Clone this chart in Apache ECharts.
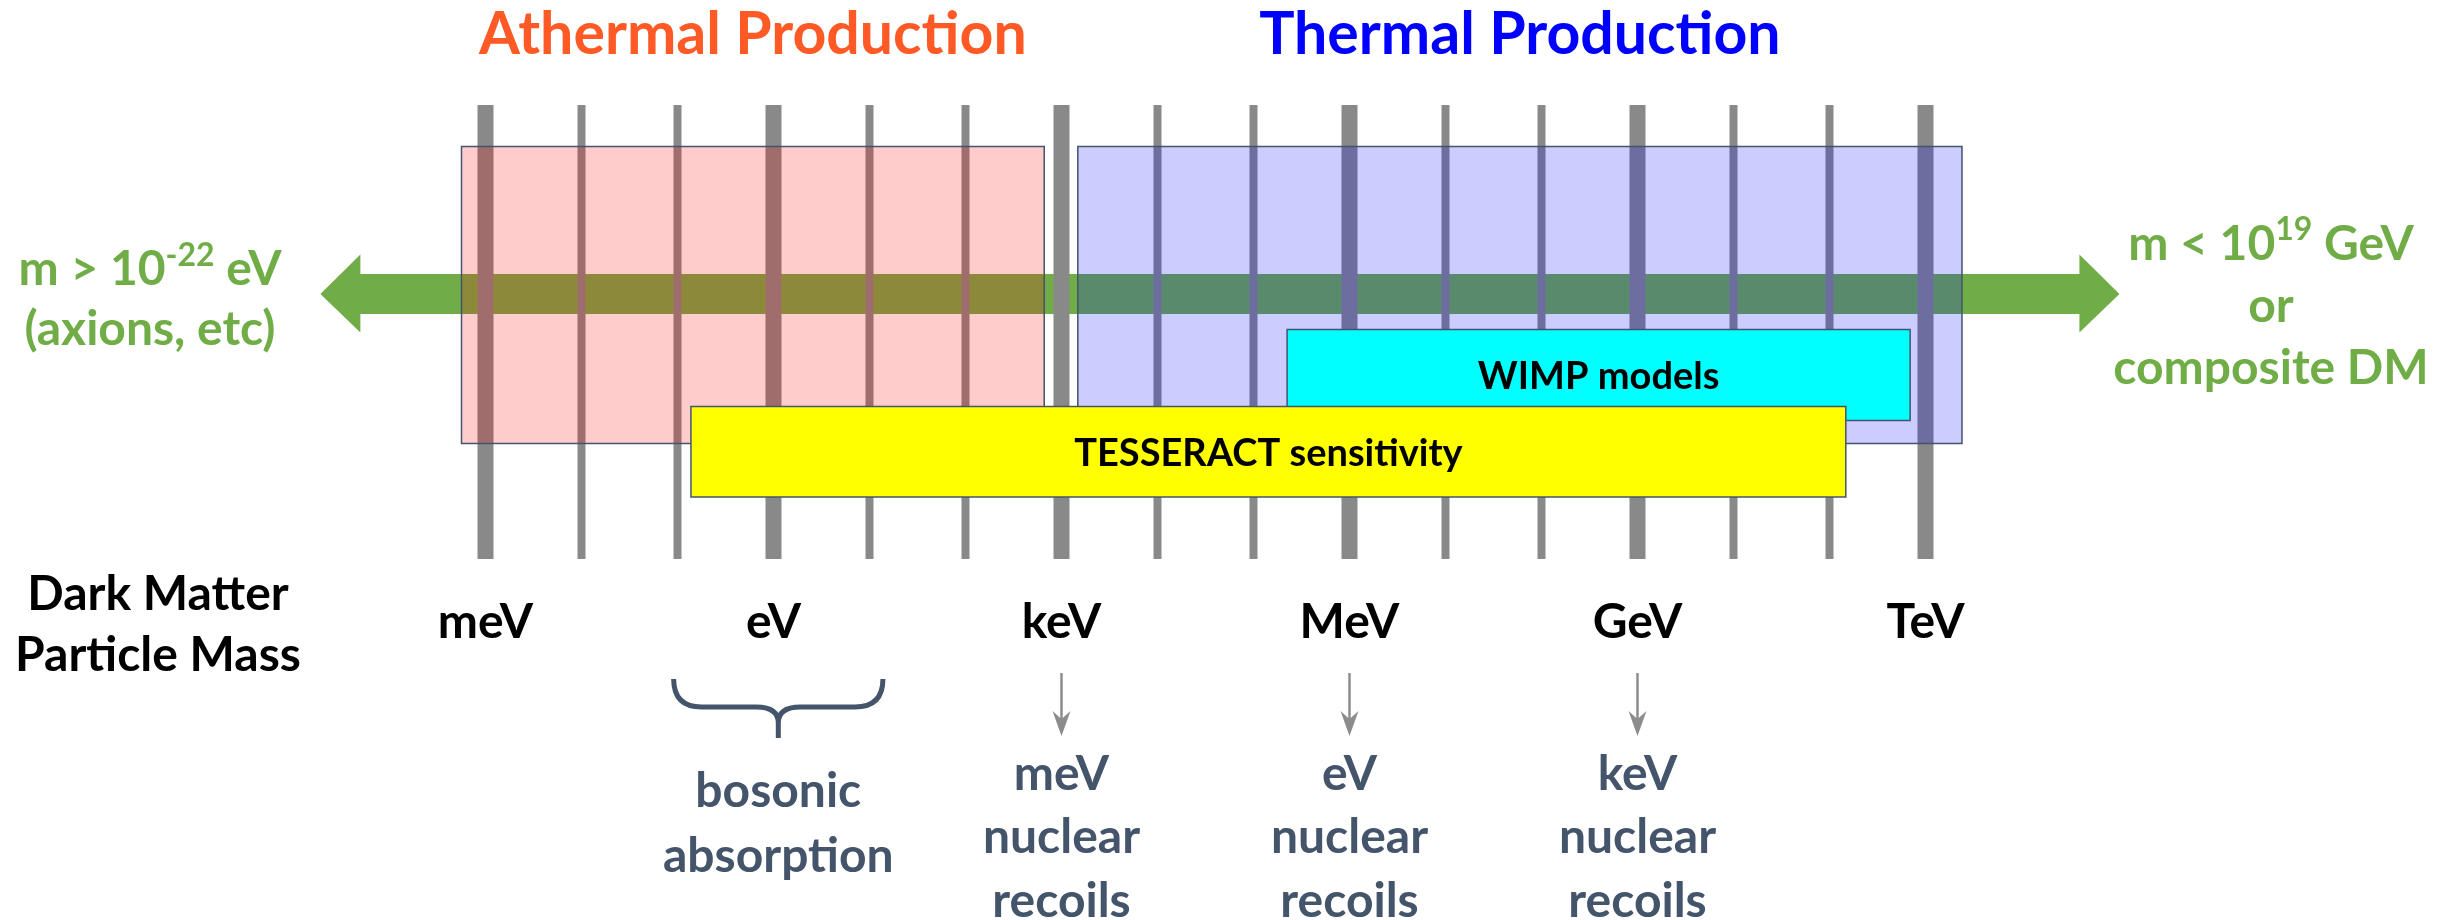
<!DOCTYPE html>
<html>
<head>
<meta charset="utf-8">
<title>Dark Matter Particle Mass</title>
<script src="https://cdn.jsdelivr.net/npm/echarts@6/dist/echarts.min.js"></script>
<style>
  html, body { margin: 0; padding: 0; background: #fff; }
  #main { width: 2448px; height: 920px; }
</style>
</head>
<body>
<div id="main"></div>
<script>
// x axis = log10(mass / eV), one grey line per decade
var decades = [-3, -2, -1, 0, 1, 2, 3, 4, 5, 6, 7, 8, 9, 10, 11, 12];
var unitDecades = [-3, 0, 3, 6, 9, 12];
var unitLabels = ['meV', 'eV', 'keV', 'MeV', 'GeV', 'TeV'];

// production regimes
var productionNames = ['Athermal Production', 'Thermal Production'];
var productionFrom = [-3.25, 3.17];
var productionTo = [2.82, 12.38];

// models / experiment reach
var bandNames = ['WIMP models', 'TESSERACT sensitivity'];
var bandFrom = [5.35, -0.86];
var bandTo = [11.84, 11.17];

// allowed dark matter mass range (arrow)
var arrowFrom = -4.72;
var arrowTo = 14.02;

// recoil energies below keV / MeV / GeV
var recoilDecades = [3, 6, 9];
var recoilUnits = ['meV', 'eV', 'keV'];

// bosonic absorption brace
var braceFrom = -1.04;
var braceTo = 1.14;

var FONT = 'Lato, "Noto Sans", sans-serif';
var SLATE = '#44546A';
var GREEN = '#70AD47';
var GREY = '#898989';
var productionFill = ['rgba(255,0,0,0.2)', 'rgba(0,0,255,0.2)'];
var productionText = ['#FF5A25', '#0000FF'];
var bandFill = ['#00FFFF', '#FFFF00'];

// vertical layout (y axis runs in pixels, top down)
var Y = {
  title: 35,
  lineTop: 105, lineBottom: 559,
  boxTop: 146.5, boxBottom: 443.5,
  shaftTop: 274, shaftBottom: 314, headTop: 254.5, headBottom: 332.5,
  bandTop: [329.5, 406.5], bandBottom: [420.5, 497],
  recoilTop: 673, recoilHead: 711, recoilTip: 736, recoilText: 838,
  braceTop: 679, braceMid: 707, braceTip: 738, braceText: 824
};

var chart = echarts.init(document.getElementById('main'));

function px(api, x) { return api.coord([x, 0])[0]; }
function py(api, y) { return api.coord([0, y])[1]; }

function renderArrow(params, api) {
  var a = px(api, api.value(0));
  var b = px(api, api.value(1));
  var head = 40;
  var mid = py(api, (Y.shaftTop + Y.shaftBottom) / 2);
  var st = py(api, Y.shaftTop), sb = py(api, Y.shaftBottom);
  var ht = py(api, Y.headTop), hb = py(api, Y.headBottom);
  return {
    type: 'polygon',
    shape: { points: [[a, mid], [a + head, ht], [a + head, st], [b - head, st], [b - head, ht], [b, mid],
      [b - head, hb], [b - head, sb], [a + head, sb], [a + head, hb]] },
    style: { fill: GREEN }
  };
}

function renderDecade(params, api) {
  var d = api.value(0);
  var w = unitDecades.indexOf(d) >= 0 ? 16 : 8;
  var x = px(api, d);
  var t = py(api, Y.lineTop), b = py(api, Y.lineBottom);
  return { type: 'rect', shape: { x: x - w / 2, y: t, width: w, height: b - t }, style: { fill: GREY } };
}

function renderProduction(params, api) {
  var i = params.dataIndex;
  var x0 = px(api, api.value(0)), x1 = px(api, api.value(1));
  var t = py(api, Y.boxTop), b = py(api, Y.boxBottom);
  return {
    type: 'group',
    children: [
      { type: 'rect', shape: { x: x0, y: t, width: x1 - x0, height: b - t },
        style: { fill: productionFill[i], stroke: SLATE, lineWidth: 1.5 } },
      { type: 'text', x: (x0 + x1) / 2, y: py(api, Y.title),
        style: { text: productionNames[i], fill: productionText[i], font: 'bold 59px ' + FONT,
          align: 'center', verticalAlign: 'middle' } }
    ]
  };
}

function renderBand(params, api) {
  var i = params.dataIndex;
  var x0 = px(api, api.value(0)), x1 = px(api, api.value(1));
  var t = py(api, Y.bandTop[i]), b = py(api, Y.bandBottom[i]);
  return {
    type: 'group',
    children: [
      { type: 'rect', shape: { x: x0, y: t, width: x1 - x0, height: b - t },
        style: { fill: bandFill[i], stroke: SLATE, lineWidth: 1.5 } },
      { type: 'text', x: (x0 + x1) / 2, y: (t + b) / 2 + 2,
        style: { text: bandNames[i], fill: '#000', font: 'bold 38px ' + FONT,
          align: 'center', verticalAlign: 'middle' } }
    ]
  };
}

function renderRecoil(params, api) {
  var i = params.dataIndex;
  var x = px(api, api.value(0));
  var tip = py(api, Y.recoilTip), hd = py(api, Y.recoilHead);
  return {
    type: 'group',
    children: [
      { type: 'line', shape: { x1: x, y1: py(api, Y.recoilTop), x2: x, y2: tip - 10 },
        style: { stroke: '#8C8C8C', lineWidth: 2.5 } },
      { type: 'polygon', shape: { points: [[x - 9, hd], [x, tip], [x + 9, hd], [x, hd + 8]] },
        style: { fill: '#8C8C8C' } },
      { type: 'text', x: x, y: py(api, Y.recoilText),
        style: { text: recoilUnits[i] + '\nnuclear\nrecoils', fill: SLATE, font: 'bold 48px ' + FONT,
          align: 'center', verticalAlign: 'middle', lineHeight: 63.5 } }
    ]
  };
}

function renderBrace(params, api) {
  var x0 = px(api, api.value(0)), x1 = px(api, api.value(1));
  var xc = (x0 + x1) / 2;
  var yt = py(api, Y.braceTop), ym = py(api, Y.braceMid), yp = py(api, Y.braceTip);
  var r = 28, r2 = 22;
  var d = 'M' + x0 + ',' + yt + ' Q' + x0 + ',' + ym + ' ' + (x0 + r) + ',' + ym +
    ' L' + (xc - r2) + ',' + ym + ' Q' + xc + ',' + ym + ' ' + xc + ',' + (ym + 16) +
    ' L' + xc + ',' + yp +
    ' M' + xc + ',' + (ym + 16) + ' Q' + xc + ',' + ym + ' ' + (xc + r2) + ',' + ym +
    ' L' + (x1 - r) + ',' + ym + ' Q' + x1 + ',' + ym + ' ' + x1 + ',' + yt;
  return {
    type: 'group',
    children: [
      { type: 'path', shape: { pathData: d },
        style: { fill: 'none', stroke: SLATE, lineWidth: 5, lineJoin: 'round' } },
      { type: 'text', x: xc, y: py(api, Y.braceText),
        style: { text: 'bosonic\nabsorption', fill: SLATE, font: 'bold 48px ' + FONT,
          align: 'center', verticalAlign: 'middle', lineHeight: 65 } }
    ]
  };
}

function sideRich(lineHeight) {
  return {
    a: { fontFamily: FONT, fontWeight: 'bold', fontSize: 48, lineHeight: lineHeight, fill: GREEN },
    s: { fontFamily: FONT, fontWeight: 'bold', fontSize: 32, lineHeight: 32, fill: GREEN, verticalAlign: 'top' }
  };
}

var option = {
  backgroundColor: '#fff',
  animation: false,
  grid: { left: 5.5, right: 42.5, top: 0, bottom: 330 },
  xAxis: {
    type: 'value', min: -8, max: 17,
    axisLine: { show: false }, axisTick: { show: false }, splitLine: { show: false },
    axisLabel: {
      customValues: unitDecades,
      formatter: function (v) { return unitLabels[unitDecades.indexOf(v)]; },
      fontFamily: FONT, fontWeight: 'bold', fontSize: 48, color: '#000',
      margin: 33, verticalAlign: 'middle'
    }
  },
  yAxis: { type: 'value', min: 0, max: 590, inverse: true, show: false },
  graphic: [
    { type: 'text', x: 150, y: 300, z: 10,
      style: { text: '{a|m > 10}{s|-22}{a| eV}\n{a|(axions, etc)}', rich: sideRich(60),
        fill: GREEN, align: 'center', verticalAlign: 'middle' } },
    { type: 'text', x: 2271, y: 307, z: 10,
      style: { text: '{a|m < 10}{s|19}{a| GeV}\n{a|or}\n{a|composite DM}', rich: sideRich(62),
        fill: GREEN, align: 'center', verticalAlign: 'middle' } },
    { type: 'text', x: 158, y: 625, z: 10,
      style: { text: 'Dark Matter\nParticle Mass', fill: '#000', font: 'bold 48px ' + FONT,
        align: 'center', verticalAlign: 'middle', lineHeight: 61 } }
  ],
  series: [
    { type: 'custom', name: 'range', z: 1, renderItem: renderArrow, data: [[arrowFrom, arrowTo]] },
    { type: 'custom', name: 'decades', z: 2, renderItem: renderDecade, data: decades.map(function (d) { return [d]; }) },
    { type: 'custom', name: 'production', z: 3, renderItem: renderProduction,
      data: productionFrom.map(function (f, i) { return [f, productionTo[i]]; }) },
    { type: 'custom', name: 'bands', z: 4, renderItem: renderBand,
      data: bandFrom.map(function (f, i) { return [f, bandTo[i]]; }) },
    { type: 'custom', name: 'recoils', z: 5, renderItem: renderRecoil, data: recoilDecades.map(function (d) { return [d]; }) },
    { type: 'custom', name: 'absorption', z: 5, renderItem: renderBrace, data: [[braceFrom, braceTo]] }
  ]
};

chart.setOption(option);
</script>
</body>
</html>
